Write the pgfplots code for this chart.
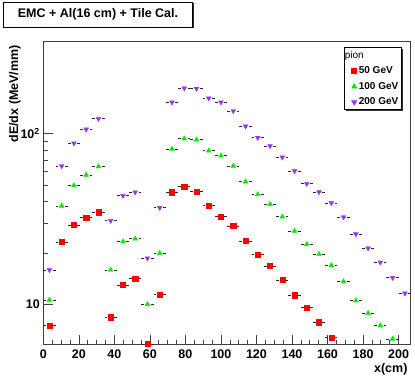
\documentclass[border=0pt]{standalone}
\usepackage{fontspec}
\setmainfont{Liberation Sans}
\usepackage{pgfplots}
\pgfplotsset{compat=1.18}
\usetikzlibrary{shadows}

\definecolor{rootred}{RGB}{255,0,0}
\definecolor{rootgreen}{RGB}{0,235,0}
\definecolor{rootviolet}{RGB}{150,50,250}

% horizontal bin-width bar (+-3.45 cm = 6.13pt here) with a gap round the marker, ROOT style
\pgfdeclareplotmark{xbin}{%
  \pgfpathmoveto{\pgfqpoint{-6.13pt}{0pt}}\pgfpathlineto{\pgfqpoint{-3.3pt}{0pt}}%
  \pgfpathmoveto{\pgfqpoint{3.3pt}{0pt}}\pgfpathlineto{\pgfqpoint{6.13pt}{0pt}}%
  \pgfusepathqstroke}

% bin centres (6.9 cm bins), dE/dx in MeV/mm
\pgfplotstableread{
x y
3.45 7.5
10.35 23.2
17.25 29.2
24.15 32.2
31.05 34.6
37.95 8.39
44.85 13.0
51.75 14.1
58.65 5.85
65.55 11.4
72.45 45.4
79.35 48.9
86.25 45.9
93.15 37.8
100.05 32.6
106.95 28.8
113.85 23.5
120.75 19.6
127.65 16.8
134.55 13.9
141.45 11.3
148.35 9.55
155.25 7.84
162.15 6.4
}\pionA

\pgfplotstableread{
x y
3.45 10.6
10.35 37.7
17.25 49.6
24.15 57.3
31.05 64.1
37.95 15.9
44.85 23.3
51.75 24.2
58.65 10.0
65.55 19.9
72.45 81.3
79.35 93.5
86.25 92.2
93.15 79.5
100.05 74.3
106.95 64.7
113.85 52.3
120.75 44.1
127.65 38.6
134.55 32.6
141.45 26.9
148.35 22.5
155.25 19.7
162.15 16.9
169.05 13.6
175.95 10.5
182.85 8.86
189.75 7.5
196.65 6.26
}\pionB

\pgfplotstableread{
x y
3.45 15.9
10.35 64.7
17.25 87.9
24.15 106
31.05 122.4
37.95 30.9
44.85 43.3
51.75 45.4
58.65 18.6
65.55 36.8
72.45 152.8
79.35 184.6
86.25 183.7
93.15 161.3
100.05 152.8
106.95 135.9
113.85 110.5
120.75 94.8
127.65 84.7
134.55 72.7
141.45 60.4
148.35 50.9
155.25 45.5
162.15 39.3
169.05 32.4
175.95 25.8
182.85 21.3
189.75 17.6
196.65 14.3
203.55 11.6
}\pionC

\begin{document}
\begin{tikzpicture}
\begin{axis}[
    scale only axis,
    width=367.7pt, height=303.3pt,
    ymode=log,
    xmin=0, xmax=207,
    ymin=5.77, ymax=346,
    axis line style={black!75, line width=1pt},
    tick pos=left,
    tick align=inside,
    major tick length=10pt,
    minor tick length=5pt,
    tick style={black!75, line width=0.6pt},
    xtick={0,20,40,60,80,100,120,140,160,180,200},
    xticklabels={0,20,40,60,80,100,120,140,160,180,200},
    minor x tick num=3,
    ytick={10,100},
    yticklabels={10,10$^{\mathbf{2}}$},
    ticklabel style={font=\fontsize{12.5}{14}\selectfont\bfseries},
    xticklabel style={yshift=-1pt},
    xlabel={x(cm)},
    ylabel={dE/dx (MeV/mm)},
    label style={font=\fontsize{12.5}{14}\selectfont\bfseries},
    xlabel style={at={(rel axis cs:1,-0.079)}, anchor=east},
    ylabel style={at={(rel axis cs:-0.077,1)}, anchor=east},
    legend style={at={(rel axis cs:0.8186,0.9815)}, anchor=north west,
        draw=black, line width=0.8pt, fill=white,
        font=\fontsize{10}{12}\selectfont\bfseries,
        inner xsep=1pt, inner ysep=1.5pt, row sep=3pt,
        drop shadow={shadow xshift=1.2pt, shadow yshift=-1.2pt, fill=black, opacity=0.8}},
    legend cell align=left,
    bins/.style={only marks, mark=xbin, black!85, line width=0.6pt, forget plot},
]
\addlegendimage{empty legend}
\addlegendentry{\hspace{-14pt}\mdseries pion}
\addplot[bins] table {\pionA};
\addplot[only marks, mark=square*, mark size=2.6pt, color=rootred] table {\pionA};
\addlegendentry{50 GeV}
\addplot[bins] table {\pionB};
\addplot[only marks, mark=triangle*, mark size=2.8pt, color=rootgreen] table {\pionB};
\addlegendentry{100 GeV}
\addplot[bins] table {\pionC};
\addplot[only marks, mark=triangle*, mark options={rotate=180}, mark size=2.8pt, color=rootviolet] table {\pionC};
\addlegendentry{200 GeV}
\coordinate (bbl) at (rel axis cs:-0.1178,-0.1121);
\coordinate (btr) at (rel axis cs:1.0109,1.1375);
\coordinate (ttl) at (rel axis cs:0.1488,1.0891);
\end{axis}
\path (bbl) rectangle (btr);
\node[draw=black, line width=0.8pt, fill=white, minimum width=189pt, minimum height=25pt,
      inner sep=0pt, font=\fontsize{12.5}{14}\selectfont\bfseries,
      drop shadow={shadow xshift=1.2pt, shadow yshift=-1.2pt, fill=black, opacity=0.8}]
      at (ttl) {EMC + Al(16 cm) + Tile Cal.};
\end{tikzpicture}
\end{document}
